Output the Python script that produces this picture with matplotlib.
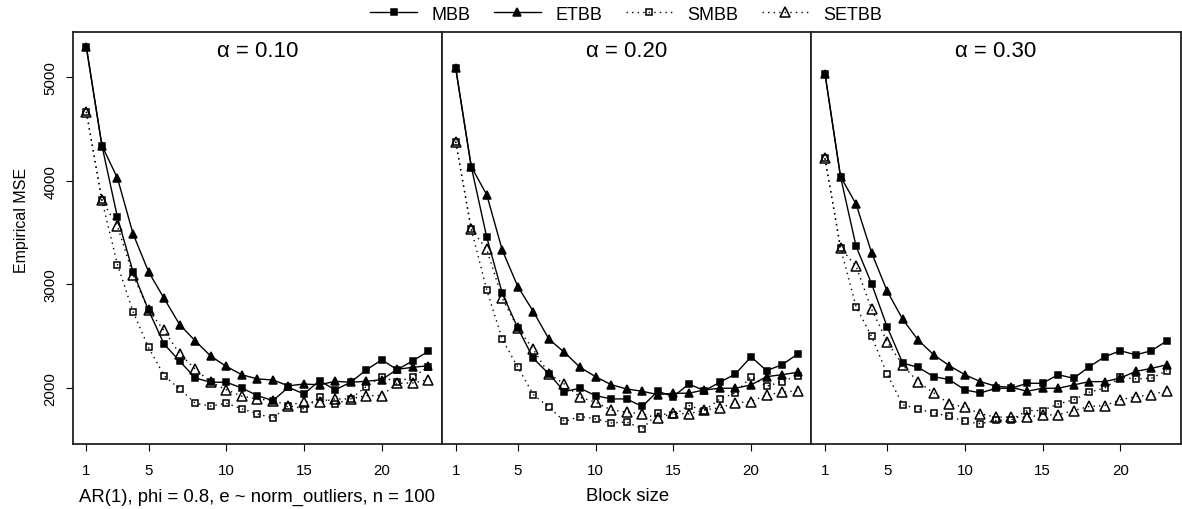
import matplotlib
matplotlib.use("Agg")
import matplotlib.pyplot as plt
from matplotlib.lines import Line2D

plt.rcParams["font.family"] = ["Liberation Sans", "DejaVu Sans"]

BLOCK_SIZES = list(range(1, 24))
ALPHAS = ["0.10", "0.20", "0.30"]
METHODS = ["MBB", "ETBB", "SMBB", "SETBB"]

# Empirical MSE by block size, one list per method and alpha
MBB = [
    [5290, 4340, 3647, 3122, 2750, 2423, 2260, 2096, 2055, 2055, 2000, 1926,
     1878, 2006, 1942, 2071, 1981, 2055, 2173, 2272, 2176, 2263, 2353],
    [5090, 4138, 3455, 2913, 2577, 2285, 2135, 1965, 1997, 1926, 1894, 1894,
     1821, 1968, 1917, 2038, 1974, 2055, 2135, 2301, 2167, 2224, 2327],
    [5035, 4041, 3368, 3006, 2590, 2240, 2199, 2109, 2080, 1981, 1952, 1997,
     1997, 2045, 2045, 2128, 2093, 2205, 2301, 2359, 2320, 2359, 2455],
]
ETBB = [
    [5290, 4340, 4026, 3490, 3122, 2865, 2612, 2455, 2308, 2208, 2128, 2087,
     2077, 2020, 2038, 2030, 2064, 2055, 2064, 2080, 2180, 2199, 2215],
    [5090, 4138, 3865, 3330, 2978, 2737, 2471, 2343, 2199, 2109, 2032, 1990,
     1968, 1936, 1949, 1949, 1981, 1997, 1997, 2029, 2109, 2128, 2151],
    [5035, 4041, 3776, 3305, 2936, 2663, 2461, 2320, 2215, 2128, 2061, 2016,
     2006, 1968, 1997, 1997, 2029, 2061, 2061, 2096, 2160, 2189, 2224],
]
SMBB = [
    [4667, 3811, 3192, 2737, 2391, 2119, 1990, 1853, 1824, 1853, 1798, 1750,
     1708, 1830, 1798, 1910, 1846, 1894, 2013, 2109, 2055, 2109, 2199],
    [4378, 3535, 2946, 2471, 2199, 1936, 1814, 1676, 1724, 1702, 1663, 1670,
     1606, 1756, 1734, 1830, 1782, 1894, 1952, 2109, 2016, 2061, 2119],
    [4218, 3353, 2785, 2497, 2135, 1837, 1798, 1756, 1728, 1676, 1654, 1686,
     1692, 1782, 1782, 1846, 1885, 1958, 2000, 2103, 2087, 2093, 2167],
]
SETBB = [
    [4667, 3811, 3561, 3093, 2750, 2555, 2330, 2183, 2055, 1984, 1920, 1894,
     1878, 1830, 1869, 1862, 1894, 1894, 1926, 1926, 2045, 2048, 2080],
    [4378, 3535, 3337, 2865, 2577, 2372, 2135, 2038, 1910, 1862, 1788, 1766,
     1750, 1708, 1756, 1750, 1788, 1808, 1856, 1869, 1933, 1958, 1974],
    [4218, 3353, 3176, 2760, 2446, 2221, 2055, 1952, 1846, 1814, 1750, 1718,
     1718, 1718, 1740, 1740, 1782, 1821, 1830, 1885, 1917, 1933, 1974],
]

STYLES = {
    "MBB": dict(ls="-", marker="s", mfc="black", ms=5.0),
    "ETBB": dict(ls="-", marker="^", mfc="black", ms=6.0),
    "SMBB": dict(ls=(0, (1, 3)), marker="s", mfc="none", ms=5.0),
    "SETBB": dict(ls=(0, (1, 3)), marker="^", mfc="none", ms=6.5),
}
SERIES = {"MBB": MBB, "ETBB": ETBB, "SMBB": SMBB, "SETBB": SETBB}

W, H = 1182, 510
fig = plt.figure(figsize=(W / 100, H / 100), dpi=100)

all_vals = [v for s in SERIES.values() for panel in s for v in panel]
lo, hi = min(all_vals), max(all_vals)
pad = 0.04 * (hi - lo)

left0, top, bottom = 72.7, 33, 445
pw = 369.3
for i, alpha in enumerate(ALPHAS):
    ax = fig.add_axes([(left0 + i * pw) / W, (H - bottom) / H, pw / W, (bottom - top) / H])
    for name in METHODS:
        st = STYLES[name]
        ax.plot(BLOCK_SIZES, SERIES[name][i], color="black", lw=1.0,
                ls=st["ls"], marker=st["marker"], ms=st["ms"],
                mfc=st["mfc"], mec="black", mew=1.1, clip_on=False)
    ax.set_xlim(1 - 0.04 * 22, 23 + 0.04 * 22)
    ax.set_ylim(lo - pad, hi + pad)
    ax.set_xticks([1, 5, 10, 15, 20])
    ax.tick_params(axis="x", direction="out", length=5, width=0.8, pad=9,
                   labelsize=10.8)
    if i == 0:
        ax.set_yticks([2000, 3000, 4000, 5000])
        ax.tick_params(axis="y", direction="out", length=5, width=0.8, pad=6,
                       labelsize=10.8)
        plt.setp(ax.get_yticklabels(), rotation=90, va="center")
        ax.set_ylabel("Empirical MSE", fontsize=11.5)
        ax.yaxis.set_label_coords(-0.118, 0.544)
    else:
        ax.set_yticks([])
    for sp in ax.spines.values():
        sp.set_linewidth(1.3)
        sp.set_color("#222222")
    ax.text(0.5, 0.955, "\u03b1 = " + alpha, transform=ax.transAxes,
            ha="center", va="center", fontsize=16)

handles = [Line2D([], [], color="black", lw=1.0, ls=STYLES[m]["ls"],
                  marker=STYLES[m]["marker"], ms=STYLES[m]["ms"],
                  mfc=STYLES[m]["mfc"], mec="black", mew=1.1) for m in METHODS]
fig.legend(handles, METHODS, loc="center", ncol=4, frameon=False,
           bbox_to_anchor=(626 / W, 1 - 15 / H), fontsize=13, numpoints=1,
           handlelength=2.6, handletextpad=0.8, columnspacing=1.3)

fig.text(79 / W, 1 - 497 / H, "AR(1), phi = 0.8, e ~ norm_outliers, n = 100",
         ha="left", va="center", fontsize=13.3)
fig.text(628 / W, 1 - 497 / H, "Block size", ha="center", va="center",
         fontsize=13.3)

fig.savefig("out.png", dpi=100)
